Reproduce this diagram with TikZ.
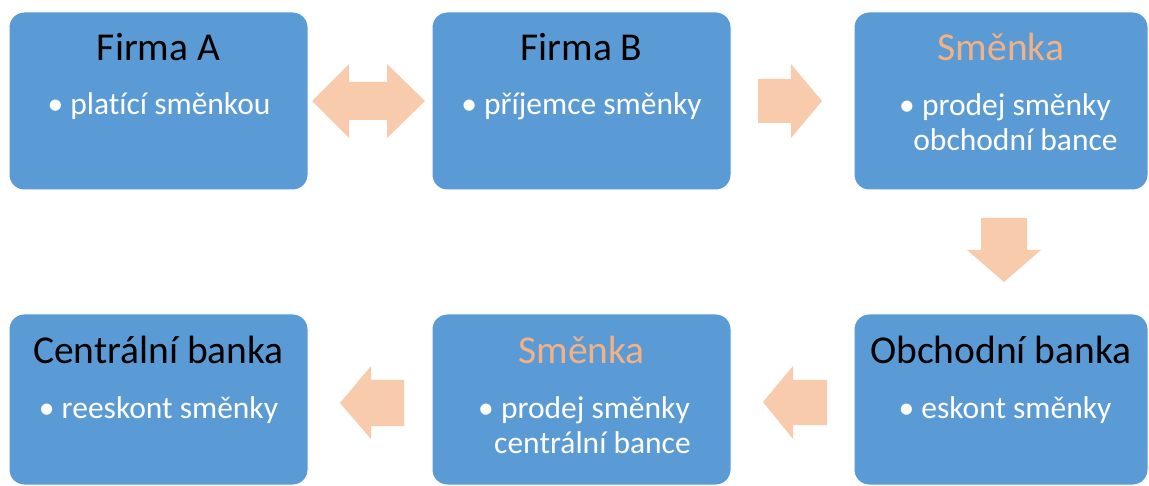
\documentclass[tikz,border=0pt]{standalone}
\usepackage{fontspec}
\setmainfont{Carlito}[Ligatures=NoCommon]
\definecolor{boxblue}{HTML}{5B9BD5}
\definecolor{arrowpeach}{HTML}{F8CBAD}
\definecolor{titleorange}{HTML}{F4B183}

\begin{document}
\begin{tikzpicture}[x=1pt,y=-1pt,
  card/.style={fill=boxblue, draw=white, line width=1pt, rounded corners=15pt,
               minimum width=299pt, minimum height=178pt, inner sep=0pt},
  lowcard/.style={card, minimum height=171pt},
  heading/.style={anchor=base, font=\fontsize{39.5}{44}\selectfont, text=black, inner sep=0pt},
  orangeheading/.style={heading, text=titleorange},
  item/.style={anchor=base, font=\fontsize{31.5}{36}\selectfont, text=white, inner sep=0pt},
  blockarrow/.style={fill=arrowpeach}]

\useasboundingbox (0,0) rectangle (1149,486);

% top row
\node[card] (firmaA) at (158.5,101) {};
\node[card] (firmaB) at (581.5,101) {};
\node[card, minimum width=294pt] (smenka1) at (1001,101) {};

% bottom row
\node[lowcard] (centralni) at (158.5,399.5) {};
\node[lowcard] (smenka2) at (581.5,399.5) {};
\node[lowcard, minimum width=294pt] (obchodni) at (1001,399.5) {};

% texts, top row
\node[heading] (tA) at (158.5,61) {Firma A};
\node[item] (iA) at (159,115) {• platící směnkou};
\node[heading] (tB) at (581.5,61) {Firma B};
\node[item] (iB) at (581.5,115) {• příjemce směnky};
\node[orangeheading] (tS1) at (1001,61) {Směnka};
\node[item] (iS1a) at (1005,116) {• prodej směnky};
\node[item] (iS1b) at (1015.5,151) {obchodní bance};

% texts, bottom row
\node[heading] (tC) at (158.5,363) {Centrální banka};
\node[item] (iC) at (158.5,418) {• reeskont směnky};
\node[orangeheading] (tS2) at (581.5,363) {Směnka};
\node[item] (iS2a) at (584,418) {• prodej směnky};
\node[item] (iS2b) at (592.5,453) {centrální bance};
\node[heading] (tO) at (1001,363) {Obchodní banka};
\node[item] (iO) at (1005,418) {• eskont směnky};

% block arrows between the cards
\fill[blockarrow] (312,101) -- (349,64) -- (349,82) -- (387,82) -- (387,64) -- (425,101)
  -- (387,138) -- (387,120) -- (349,120) -- (349,138) -- cycle;
\fill[blockarrow] (758,79) -- (791,79) -- (791,64) -- (822,101) -- (791,138) -- (791,123)
  -- (758,123) -- cycle;
\fill[blockarrow] (981,218) -- (1027,218) -- (1027,250) -- (1041,250) -- (1004,282)
  -- (967,250) -- (981,250) -- cycle;
\fill[blockarrow] (763,402) -- (793,366) -- (793,380) -- (827,380) -- (827,425) -- (793,425)
  -- (793,439) -- cycle;
\fill[blockarrow] (340,403) -- (371,366) -- (371,380) -- (404,380) -- (404,426) -- (371,426)
  -- (371,439) -- cycle;
\end{tikzpicture}
\end{document}
